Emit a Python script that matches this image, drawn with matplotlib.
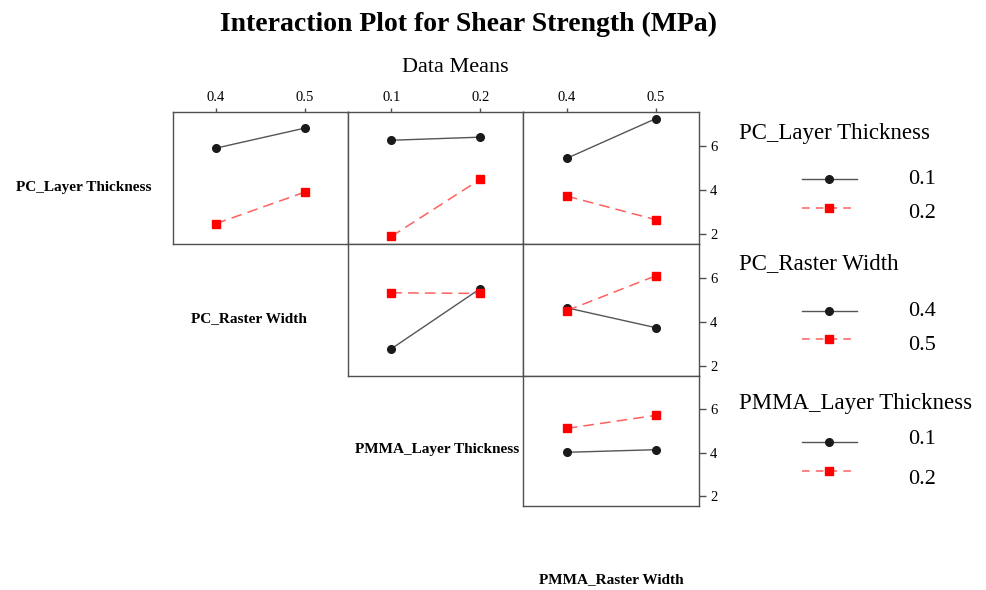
import matplotlib
matplotlib.use('Agg')
import matplotlib.pyplot as plt
from matplotlib.lines import Line2D

plt.rcParams['font.family'] = ['Liberation Serif', 'DejaVu Serif']

W, H = 987, 590

# ---- data ----
col_factors = ['PC_Raster Width', 'PMMA_Layer Thickness', 'PMMA_Raster Width']
col_levels = [[0.4, 0.5], [0.1, 0.2], [0.4, 0.5]]
col_ticklabels = [['0.4', '0.5'], ['0.1', '0.2'], ['0.4', '0.5']]
row_factors = ['PC_Layer Thickness', 'PC_Raster Width', 'PMMA_Layer Thickness']
row_levels = [['0.1', '0.2'], ['0.4', '0.5'], ['0.1', '0.2']]

# row 1: trace = PC_Layer Thickness
pclt_by_pcrw_low = [5.88, 6.79]
pclt_by_pcrw_high = [2.46, 3.89]
pclt_by_pmmalt_low = [6.24, 6.38]
pclt_by_pmmalt_high = [1.88, 4.47]
pclt_by_pmmarw_low = [5.42, 7.22]
pclt_by_pmmarw_high = [3.71, 2.64]
# row 2: trace = PC_Raster Width
pcrw_by_pmmalt_low = [2.77, 5.50]
pcrw_by_pmmalt_high = [5.31, 5.28]
pcrw_by_pmmarw_low = [4.63, 3.73]
pcrw_by_pmmarw_high = [4.50, 6.08]
# row 3: trace = PMMA_Layer Thickness
pmmalt_by_pmmarw_low = [4.01, 4.13]
pmmalt_by_pmmarw_high = [5.11, 5.71]

panels = {
    (0, 0): (pclt_by_pcrw_low, pclt_by_pcrw_high),
    (0, 1): (pclt_by_pmmalt_low, pclt_by_pmmalt_high),
    (0, 2): (pclt_by_pmmarw_low, pclt_by_pmmarw_high),
    (1, 1): (pcrw_by_pmmalt_low, pcrw_by_pmmalt_high),
    (1, 2): (pcrw_by_pmmarw_low, pcrw_by_pmmarw_high),
    (2, 2): (pmmalt_by_pmmarw_low, pmmalt_by_pmmarw_high),
}
y_ticks = [2, 4, 6]

# ---- layout (pixels) ----
col_x = [172.5, 348, 523.5, 699]
row_y = [112, 244, 376, 506]
ylim = (1.54, 7.52)

spine_c = '#505050'
blk = '#1a1a1a'
line_blk = '#555555'
red = '#ff0000'
line_red = '#ff6060'

fig = plt.figure(figsize=(W / 100, H / 100), dpi=100)


def rect(x0, y0, x1, y1):
    return [x0 / W, 1 - y1 / H, (x1 - x0) / W, (y1 - y0) / H]


for (r, c), (low, high) in panels.items():
    ax = fig.add_axes(rect(col_x[c], row_y[r], col_x[c + 1], row_y[r + 1]))
    xs = col_levels[c]
    d = xs[1] - xs[0]
    ax.plot(xs, low, color=line_blk, lw=1.0, ls='-', marker='o', ms=5.5,
            mfc=blk, mec=blk, zorder=3)
    ax.plot(xs, high, color=line_red, lw=1.1, ls=(0, (7, 4)), marker='s', ms=6,
            mfc=red, mec=red, zorder=3)
    ax.set_xlim(xs[0] - 0.485 * d, xs[1] + 0.485 * d)
    ax.set_ylim(*ylim)
    for s in ax.spines.values():
        s.set_color(spine_c)
        s.set_linewidth(1.0)
    ax.set_xticks(xs)
    ax.set_yticks(y_ticks)
    ax.tick_params(axis='x', which='both', bottom=False, labelbottom=False,
                   top=(r == 0), labeltop=(r == 0), length=3, width=1.0,
                   color=spine_c, pad=3, labelsize=10.5, labelcolor='black')
    if r == 0:
        ax.set_xticklabels(col_ticklabels[c])
    ax.tick_params(axis='y', which='both', left=False, labelleft=False,
                   right=(c == 2), labelright=(c == 2), length=5, width=1.0,
                   color=spine_c, pad=3, labelsize=10.5, labelcolor='black')
    if c == 2:
        ax.set_yticklabels([str(v) for v in y_ticks])

# title and subtitle
fig.text(469 / W, 1 - 24 / H, 'Interaction Plot for Shear Strength (MPa)',
         ha='center', va='center', fontsize=20, fontweight='bold')
fig.text(455 / W, 1 - 68 / H, 'Data Means', ha='center', va='center', fontsize=16)

# diagonal factor labels
diag_pos = [(84, 187), (249, 319), (437, 449), (611, 580)]
diag_names = row_factors + [col_factors[-1]]
for (x, y), name in zip(diag_pos, diag_names):
    fig.text(x / W, 1 - y / H, name, ha='center', va='center', fontsize=11,
             fontweight='bold')

# legends
lax = fig.add_axes([0, 0, 1, 1], facecolor='none')
lax.set_xlim(0, W)
lax.set_ylim(H, 0)
lax.axis('off')
leg_title_y = [133, 264, 404]
leg_entry_y = [(179, 208), (311, 339), (442, 471)]
leg_label_y = [(179, 214), (311, 345), (440, 479)]
for g in range(3):
    lax.text(739, leg_title_y[g], row_factors[g], ha='left', va='center', fontsize=16.5)
    y1, y2 = leg_entry_y[g]
    l1, l2 = leg_label_y[g]
    lax.add_line(Line2D([802, 857], [y1, y1], color=line_blk, lw=1.0))
    lax.add_line(Line2D([829], [y1], marker='o', ms=5.5, color=blk, ls='none'))
    lax.add_line(Line2D([802, 857], [y2, y2], color=line_red, lw=1.1, ls=(0, (5, 4))))
    lax.add_line(Line2D([829], [y2], marker='s', ms=6, color=red, ls='none'))
    lax.text(908, l1, row_levels[g][0], ha='left', va='center', fontsize=16)
    lax.text(908, l2, row_levels[g][1], ha='left', va='center', fontsize=16)

fig.savefig('out.png', dpi=100)
